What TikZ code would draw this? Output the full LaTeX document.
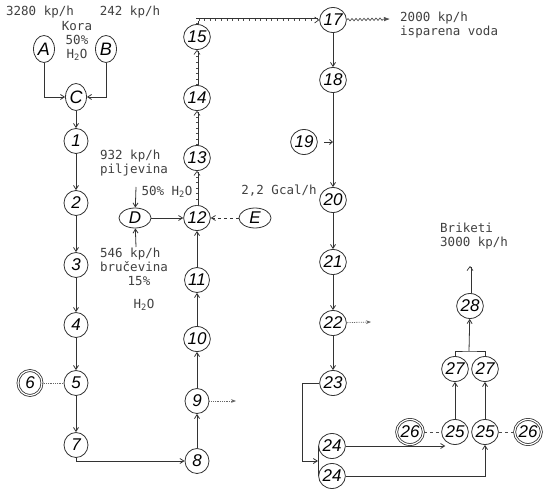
\documentclass[tikz,border=0pt]{standalone}
\usepackage{fontspec}
\usepackage{xcolor}
\usepackage{tikz}
\usetikzlibrary{arrows.meta,positioning,shapes.geometric,calc,decorations.pathmorphing}
\newfontfamily\pisaca{DejaVu Sans Mono}
\newfontfamily\rukopis{Liberation Sans}

\begin{document}
\begin{tikzpicture}[x=1pt, y=-1pt, node distance=61pt,
  krug/.style={ellipse, draw=black!80, line width=0.8pt, inner sep=0pt, minimum width=24pt, minimum height=25pt, font=\rukopis\itshape\fontsize{17}{17}\selectfont},
  dvokrug/.style={krug, double, double distance=1.2pt},
  slovo/.style={krug, minimum width=21pt, minimum height=27pt, font=\rukopis\itshape\fontsize{18}{18}\selectfont},
  sirokoslovo/.style={krug, minimum width=32pt, minimum height=20pt},
  tekst/.style={font=\pisaca\fontsize{12.5}{14}\selectfont, text=black!75, inner sep=0pt, align=left},
  tok/.style={draw=black!80, line width=0.8pt, -{Straight Barb[length=4pt, width=5pt]}},
  linija/.style={draw=black!80, line width=0.8pt},
  parni/.style={draw=black!80, line width=0.7pt, double, double distance=1.6pt, -{Straight Barb[length=4pt, width=6pt]}},
  tockice/.style={draw=black!70, line width=1.2pt, dash pattern=on 0.6pt off 5pt, shorten >=6pt},
  tackast/.style={draw=black!60, densely dotted, line width=0.8pt, -{Stealth[length=5pt]}},
  crtkan/.style={draw=black!70, dashed, line width=0.8pt},
  val/.style={draw=black!70, line width=0.7pt, decorate, decoration={snake, amplitude=1.2pt, segment length=4pt, post length=6pt}, -{Latex[length=6pt]}}]

  \useasboundingbox (0,0) rectangle (543,489);

  \node [slovo] (A) at (44,49) {A};
  \node [slovo, right of=A, node distance=62pt] (B) {B};
  \node [slovo] (C) at (76,97) {C};
  \node [tekst] (masaA) at (40,12) {3280 kp/h};
  \node [tekst] (masaB) at (130,12) {242 kp/h};
  \node [tekst, align=center] (kora) at (77,41) {Kora\\50\%\\H\textsubscript{2}O};

  \node [krug, below of=C, node distance=44pt] (n1) {1};
  \node [krug, below of=n1, node distance=62pt] (n2) {2};
  \node [krug, below of=n2, node distance=62pt] (n3) {3};
  \node [krug, below of=n3, node distance=60pt] (n4) {4};
  \node [krug, below of=n4, node distance=58pt] (n5) {5};
  \node [dvokrug, left of=n5, node distance=46pt] (n6) {6};
  \node [krug, below of=n5, node distance=62pt] (n7) {7};

  \node [krug] (n8) at (197,461) {8};
  \node [krug, above of=n8, node distance=60pt] (n9) {9};
  \node [krug, above of=n9, node distance=62pt] (n10) {10};
  \node [krug, above of=n10, node distance=59pt] (n11) {11};
  \node [krug, above of=n11, node distance=62pt] (n12) {12};
  \node [krug, above of=n12, node distance=60pt] (n13) {13};
  \node [krug, above of=n13, node distance=60pt] (n14) {14};
  \node [krug, above of=n14] (n15) {15};
  \node [sirokoslovo, left of=n12, node distance=62pt] (D) {D};
  \node [sirokoslovo, right of=n12, node distance=58pt] (E) {E};

  \node [tekst] (pilj) at (134,163) {932 kp/h\\piljevina};
  \node [tekst] (vlagaD) at (167,192) {50\% H\textsubscript{2}O};
  \node [tekst] (brus) at (134,260) {546 kp/h\\bručevina};
  \node [tekst] (brusvl) at (139,281) {15\%};
  \node [tekst] (brush) at (144,305) {H\textsubscript{2}O};
  \node [tekst] (toplina) at (279,191) {2,2 Gcal/h};

  \node [krug] (n17) at (333,20) {17};
  \node [krug, below of=n17, node distance=60pt] (n18) {18};
  \node [krug, below of=n18, node distance=120pt] (n20) {20};
  \node [krug] (n19) at (304,142) {19};
  \node [krug, below of=n20, node distance=62pt] (n21) {21};
  \node [krug, below of=n21] (n22) {22};
  \node [krug, below of=n22, node distance=60pt] (n23) {23};
  \node [krug] (n24a) at (332,446) {24};
  \node [krug, below of=n24a, node distance=30pt] (n24b) {24};

  \node [krug] (n25a) at (455,432) {25};
  \node [krug, right of=n25a, node distance=30pt] (n25b) {25};
  \node [dvokrug, left of=n25a, node distance=45pt] (n26a) {26};
  \node [dvokrug, right of=n25b, node distance=43pt] (n26b) {26};
  \node [krug, above of=n25a, node distance=63pt] (n27a) {27};
  \node [krug, above of=n25b, node distance=63pt] (n27b) {27};
  \node [krug] (n28) at (470,306) {28};

  \node [tekst, anchor=west] (para) at (400,25) {2000 kp/h\\isparena voda};
  \node [tekst, anchor=west] (briketi) at (440,236) {Briketi\\3000 kp/h};

  \coordinate (p932) at (136,187);
  \coordinate (p546) at (136,247);
  \coordinate (p9) at (236,401);
  \coordinate (p17) at (390,19);
  \coordinate (p19) at (324,142);
  \coordinate (p22) at (371,322);
  \coordinate (p23) at (302,383);
  \coordinate (p24) at (318,461);
  \coordinate (p27) at (469,351);
  \coordinate (p28) at (470,266);

  \path [tok] (A) |- (C);
  \path [tok] (B) |- (C);
  \path [tok] (C) -- (n1);
  \path [tok] (n1) -- (n2);
  \path [tok] (n2) -- (n3);
  \path [tok] (n3) -- (n4);
  \path [tok] (n4) -- (n5);
  \path [tok] (n5) -- (n7);
  \path [draw=black!60, densely dotted, line width=0.8pt] (n6) -- (n5);
  \path [tok] (n7) |- (n8);

  \path [tok] (n8) -- (n9);
  \path [tok] (n9) -- (n10);
  \path [tok] (n10) -- (n11);
  \path [tok] (n11) -- (n12);
  \path [tackast] (n9) -- (p9);
  \path [tok] (D) -- (n12);
  \path [tok, dashed] (E) -- (n12);
  \path [tok] (p932) -- (D);
  \path [tok] (p546) -- (D);
  \path [parni] (n12) -- (n13);
  \path [tockice] (n12) -- (n13);
  \path [parni] (n13) -- (n14);
  \path [tockice] (n13) -- (n14);
  \path [parni] (n14) -- (n15);
  \path [tockice] (n14) -- (n15);
  \path [parni] (n15) |- (n17);
  \path [tockice] (n15) |- (n17);

  \path [val] (n17) -- (p17);
  \path [tok] (n17) -- (n18);
  \path [tok] (n18) -- (n20);
  \path [draw=black!80, line width=0.8pt, -{Straight Barb[length=3pt, width=5pt]}] (p19) -- (p19 -| n18);
  \path [tok] (n20) -- (n21);
  \path [tok] (n21) -- (n22);
  \path [tok] (n22) -- (n23);
  \path [tackast] (n22) -- (p22);
  \path [tok] (n23) -- (p23) |- (p24);
  \path [linija] (n24a.west) -- (n24b.west);
  \path [tok] (n24a) -- (n24a -| n25a.south west);
  \path [tok] (n24b) -| (n25b);

  \path [crtkan] (n26a) -- (n25a);
  \path [crtkan] (n25b) -- (n26b);
  \path [tok] (n25a) -- (n27a);
  \path [tok] (n25b) -- (n27b);
  \path [linija] (n27a.north) |- (p27) -| (n27b.north);
  \path [tok] (p27) -- (n28);
  \path [parni] (n28) -- (p28);
\end{tikzpicture}
\end{document}
